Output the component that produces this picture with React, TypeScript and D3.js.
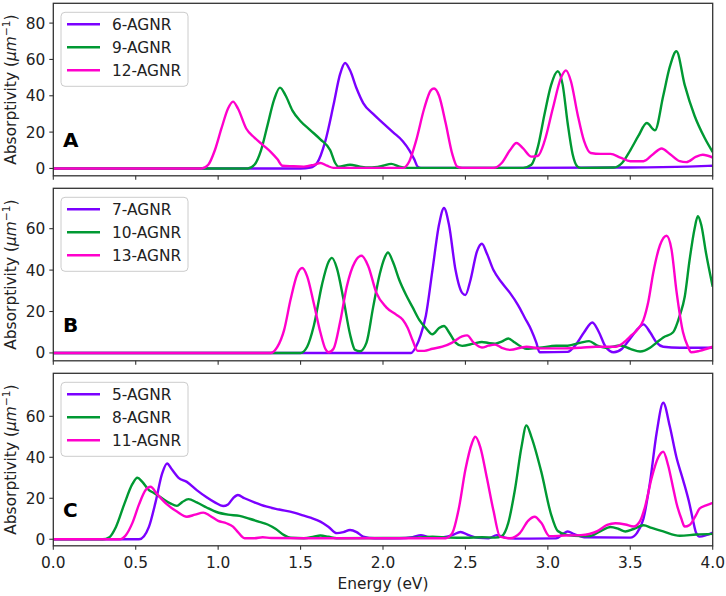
import * as d3 from 'd3';

type Pt = [number, number];

// Energy (eV) vs absorptivity (um^-1)
const agnr6: Pt[] = [
  [0, 0], [1.5, 0], [1.56, 0.5], [1.6, 3], [1.65, 15], [1.7, 35], [1.74, 52], [1.77, 58], [1.8, 54],
  [1.84, 44], [1.88, 36], [1.94, 30], [2.0, 25], [2.06, 20], [2.12, 15], [2.16, 10], [2.19, 5],
  [2.21, 1], [2.23, 0.3], [2.8, 0.3], [3.5, 0.5], [3.85, 1], [4.0, 1.5],
];
const agnr9: Pt[] = [
  [0, 0], [1.18, 0], [1.22, 2], [1.26, 10], [1.3, 24], [1.34, 38], [1.375, 44.5], [1.41, 40],
  [1.45, 32], [1.5, 26], [1.56, 21], [1.62, 16], [1.68, 10], [1.71, 3], [1.73, 1], [1.8, 2],
  [1.86, 1], [1.92, 0.5], [2.0, 1.5], [2.05, 2.5], [2.1, 1], [2.15, 0.3], [2.85, 0.3], [2.9, 2],
  [2.94, 12], [2.98, 30], [3.02, 46], [3.06, 53.5], [3.09, 46], [3.12, 25], [3.15, 8], [3.18, 1],
  [3.2, 0.3], [3.4, 0.5], [3.45, 3], [3.5, 10], [3.55, 18], [3.6, 25], [3.65, 21], [3.7, 40],
  [3.74, 56], [3.78, 64.5], [3.83, 46], [3.89, 29], [3.95, 17], [4.0, 9],
];
const agnr12: Pt[] = [
  [0, 0], [0.9, 0], [0.94, 2], [0.98, 10], [1.02, 22], [1.06, 33], [1.09, 36.8], [1.12, 33],
  [1.17, 22], [1.22, 17], [1.27, 13], [1.32, 9], [1.36, 5], [1.39, 1.5], [1.45, 1.2], [1.52, 1],
  [1.58, 2], [1.62, 3], [1.66, 1.5], [1.7, 0.3], [2.12, 0.3], [2.16, 4], [2.2, 15], [2.25, 33],
  [2.29, 43], [2.31, 44], [2.34, 40], [2.38, 25], [2.42, 8], [2.45, 1], [2.48, 0.3], [2.67, 0.3],
  [2.72, 3], [2.77, 10], [2.81, 14], [2.85, 11], [2.9, 6.5], [2.94, 7], [2.98, 15], [3.03, 33],
  [3.08, 50], [3.11, 54], [3.14, 48], [3.18, 30], [3.22, 15], [3.26, 8.5], [3.32, 8], [3.38, 8],
  [3.44, 6], [3.5, 4], [3.58, 4], [3.64, 8], [3.69, 11], [3.74, 8], [3.8, 4], [3.84, 3.5],
  [3.9, 6.5], [3.94, 7.5], [4.0, 6],
];

const agnr7: Pt[] = [
  [0, 0], [2.17, 0], [2.2, 3], [2.23, 9], [2.26, 18], [2.3, 40], [2.34, 62], [2.37, 70], [2.4, 62],
  [2.44, 40], [2.48, 29], [2.5, 28], [2.53, 35], [2.57, 49], [2.6, 52.7], [2.63, 48], [2.67, 40],
  [2.72, 34], [2.77, 29], [2.82, 23], [2.86, 17], [2.9, 11], [2.93, 5], [2.95, 0.3], [3.12, 0.5],
  [3.17, 4], [3.22, 10], [3.27, 14.7], [3.31, 10], [3.35, 3], [3.4, 0.3], [3.45, 2], [3.5, 7],
  [3.55, 12], [3.58, 13.8], [3.62, 10], [3.66, 5], [3.7, 3], [3.8, 2.5], [4.0, 2.5],
];
const agnr10: Pt[] = [
  [0, 0], [1.5, 0], [1.54, 3], [1.58, 13], [1.63, 33], [1.67, 44], [1.69, 45.9], [1.72, 41],
  [1.76, 26], [1.8, 9], [1.83, 1.5], [1.86, 0.8], [1.9, 5], [1.94, 22], [1.98, 38], [2.01, 46],
  [2.03, 48.5], [2.06, 44], [2.1, 35], [2.14, 28], [2.18, 22], [2.22, 16], [2.26, 12], [2.3, 9],
  [2.34, 12], [2.37, 13], [2.4, 10], [2.44, 5], [2.48, 3.4], [2.55, 4.5], [2.6, 5.3], [2.64, 4.8],
  [2.68, 4.5], [2.72, 5.5], [2.76, 7], [2.8, 5], [2.87, 2], [2.95, 2.5], [3.05, 3.5], [3.12, 3.5],
  [3.2, 5], [3.25, 5.7], [3.3, 3.5], [3.35, 2.5], [3.44, 3.6], [3.5, 2], [3.56, 0.7], [3.62, 2.5],
  [3.66, 5], [3.7, 7.5], [3.76, 10], [3.8, 18], [3.83, 27], [3.86, 45], [3.89, 60], [3.91, 66],
  [3.93, 62], [3.96, 48], [4.0, 32],
];
const agnr13: Pt[] = [
  [0, 0], [1.32, 0], [1.36, 3], [1.4, 11], [1.44, 26], [1.48, 38], [1.51, 41], [1.54, 37],
  [1.58, 24], [1.62, 10], [1.65, 2], [1.67, 0.3], [1.7, 2], [1.74, 15], [1.78, 32], [1.83, 44],
  [1.87, 46.9], [1.91, 42], [1.96, 29], [2.02, 22], [2.08, 18.5], [2.12, 16], [2.15, 12],
  [2.18, 6], [2.21, 1], [2.25, 1], [2.3, 2], [2.36, 3], [2.42, 5], [2.48, 8], [2.51, 8.5],
  [2.55, 5], [2.6, 2.6], [2.64, 3.5], [2.68, 4], [2.72, 2.5], [2.77, 1.5], [2.87, 3], [2.95, 2.2],
  [3.1, 2.2], [3.2, 2.5], [3.29, 3], [3.41, 3], [3.46, 5], [3.5, 8], [3.54, 11], [3.58, 16],
  [3.61, 25], [3.64, 39], [3.68, 52], [3.72, 56.6], [3.75, 50], [3.78, 30], [3.82, 10], [3.85, 3],
  [3.87, 0.3], [3.92, 1], [4.0, 3],
];

const agnr5: Pt[] = [
  [0, 0], [0.52, 0], [0.55, 1.5], [0.58, 6], [0.62, 18], [0.66, 32], [0.69, 37], [0.72, 34],
  [0.76, 30], [0.81, 28], [0.87, 24], [0.93, 20.5], [0.98, 18], [1.03, 16.2], [1.06, 17],
  [1.09, 20], [1.12, 21.6], [1.16, 20], [1.22, 18], [1.29, 16], [1.37, 14.5], [1.46, 13],
  [1.5, 12], [1.56, 10.5], [1.62, 8.6], [1.67, 6], [1.72, 3], [1.76, 3.5], [1.8, 4.5], [1.84, 3.5],
  [1.88, 1.3], [1.95, 0.5], [2.1, 0.5], [2.18, 1], [2.23, 2], [2.28, 1], [2.35, 0.8], [2.42, 2],
  [2.47, 3.5], [2.52, 2], [2.58, 0.7], [2.64, 0.5], [2.69, 2], [2.74, 0.8], [2.8, 0.3], [3.05, 0.4],
  [3.09, 2.5], [3.12, 3.8], [3.16, 2.5], [3.22, 1], [3.5, 0.8], [3.54, 3], [3.58, 10], [3.62, 28],
  [3.66, 52], [3.7, 66.6], [3.74, 55], [3.78, 40], [3.82, 29], [3.86, 17], [3.88, 9.4], [3.9, 3],
  [3.92, 1.3], [3.96, 2], [4.0, 3.3],
];
const agnr8: Pt[] = [
  [0, 0], [0.3, 0], [0.34, 1], [0.38, 6], [0.43, 17], [0.48, 27], [0.51, 30], [0.54, 28],
  [0.58, 24], [0.61, 22.6], [0.66, 20], [0.71, 17.5], [0.75, 16.3], [0.78, 18], [0.82, 19.6],
  [0.87, 18], [0.93, 15.5], [0.99, 13.3], [1.06, 12], [1.13, 11.4], [1.19, 10], [1.25, 8.5],
  [1.3, 7.2], [1.35, 5], [1.4, 2], [1.44, 0.7], [1.52, 0.5], [1.58, 1.2], [1.62, 1.8], [1.67, 1.2],
  [1.72, 0.5], [2.0, 0.6], [2.2, 0.8], [2.3, 1.2], [2.4, 0.8], [2.5, 0.7], [2.6, 1], [2.68, 0.8],
  [2.72, 1.5], [2.76, 8], [2.8, 24], [2.84, 45], [2.87, 55.6], [2.9, 50], [2.96, 33], [3.02, 12],
  [3.06, 4], [3.12, 2], [3.2, 1.5], [3.25, 1.5], [3.32, 4], [3.38, 6], [3.43, 5], [3.47, 3.8],
  [3.52, 5], [3.58, 6.8], [3.63, 5.5], [3.7, 3.8], [3.8, 1.7], [3.9, 2.3], [4.0, 2.6],
];
const agnr11: Pt[] = [
  [0, 0], [0.4, 0], [0.44, 2], [0.48, 8], [0.52, 17], [0.56, 24], [0.59, 25.6], [0.63, 22],
  [0.69, 17], [0.75, 13.5], [0.81, 11], [0.86, 12], [0.91, 13], [0.95, 11.5], [1.0, 9], [1.05, 7.8],
  [1.09, 6.2], [1.12, 3.5], [1.16, 0.5], [1.22, 0.5], [1.27, 1], [1.32, 0.6], [1.5, 0.5], [2.0, 0.5],
  [2.38, 0.5], [2.42, 3], [2.46, 15], [2.5, 34], [2.54, 47], [2.56, 50], [2.59, 45], [2.63, 30],
  [2.67, 14], [2.71, 1.3], [2.77, 0.5], [2.83, 3], [2.88, 9], [2.92, 11], [2.96, 8], [3.01, 1.5],
  [3.1, 1.8], [3.2, 2], [3.3, 4], [3.36, 7], [3.41, 7.8], [3.47, 7.2], [3.52, 6.2], [3.56, 9],
  [3.59, 16], [3.63, 30], [3.67, 40], [3.7, 42.7], [3.73, 36], [3.76, 25], [3.78, 17.7], [3.81, 10],
  [3.83, 6.2], [3.86, 7], [3.9, 12], [3.92, 15], [3.96, 16.5], [4.0, 17.8],
];

const panelLetters = ['A', 'B', 'C'];
const seriesNames = [
  ['6-AGNR', '9-AGNR', '12-AGNR'],
  ['7-AGNR', '10-AGNR', '13-AGNR'],
  ['5-AGNR', '8-AGNR', '11-AGNR'],
];
const seriesData = [
  [agnr6, agnr9, agnr12],
  [agnr7, agnr10, agnr13],
  [agnr5, agnr8, agnr11],
];
const yTicks = [
  [0, 20, 40, 60, 80],
  [0, 20, 40, 60],
  [0, 20, 40, 60],
];
const yDomains: [number, number][] = [
  [-4.05, 90.9],
  [-3.8, 79.5],
  [-3.2, 81],
];
const xTicks = [0, 0.5, 1, 1.5, 2, 2.5, 3, 3.5, 4];

const colors = ['#7b00ff', '#009933', '#ff00cc'];

const W = 726;
const H = 596;
const left = 53.3;
const right = 712.7;
const panelTops = [3.3, 188.3, 373.3];
const panelH = 172.5;
const font = '"DejaVu Sans", sans-serif';
const fs = 15.4;

export default function App() {
  const x = d3.scaleLinear().domain([0, 4]).range([left, right]);

  return (
    <svg
      width={W}
      height={H}
      style={{ position: 'absolute', left: 0, top: 0, background: '#fff' }}
      fontFamily={font}
    >
      <defs>
        {panelTops.map((t, i) => (
          <clipPath id={`clip${i}`} key={i}>
            <rect x={left} y={t} width={right - left} height={panelH} />
          </clipPath>
        ))}
      </defs>
      {panelTops.map((top, pi) => {
        const bottom = top + panelH;
        const y = d3.scaleLinear().domain(yDomains[pi]).range([bottom, top]);
        const line = d3
          .line<Pt>()
          .x((d) => x(d[0]))
          .y((d) => y(d[1]))
          .curve(d3.curveMonotoneX);
        const isLast = pi === panelTops.length - 1;
        return (
          <g key={pi}>
            <g clipPath={`url(#clip${pi})`}>
              {seriesData[pi].map((s, si) => (
                <path
                  key={si}
                  d={line(s) || ''}
                  fill="none"
                  stroke={colors[si]}
                  strokeWidth={2.4}
                  strokeLinejoin="round"
                />
              ))}
            </g>
            <rect
              x={left}
              y={top}
              width={right - left}
              height={panelH}
              fill="none"
              stroke="#333"
              strokeWidth={1.3}
            />
            {yTicks[pi].map((t) => (
              <g key={t}>
                <line x1={left - 4} x2={left} y1={y(t)} y2={y(t)} stroke="#333" strokeWidth={1.1} />
                <text
                  x={left - 8}
                  y={y(t)}
                  dy="0.36em"
                  textAnchor="end"
                  fontSize={fs}
                  fill="#222"
                >
                  {t}
                </text>
              </g>
            ))}
            {xTicks.map((t) => (
              <g key={t}>
                <line x1={x(t)} x2={x(t)} y1={bottom} y2={bottom + 4} stroke="#333" strokeWidth={1.1} />
                {isLast && (
                  <text x={x(t)} y={bottom + 22} textAnchor="middle" fontSize={fs} fill="#222">
                    {d3.format('.1f')(t)}
                  </text>
                )}
              </g>
            ))}
            <text
              transform={`translate(15.5,${top + panelH / 2}) rotate(-90)`}
              textAnchor="middle"
              fontSize={fs}
              fill="#222"
            >
              Absorptivity (
              <tspan fontStyle="italic">μm</tspan>
              <tspan fontSize={fs * 0.7} dy={-6}>
                −1
              </tspan>
              <tspan dy={6}>)</tspan>
            </text>
            <text x={63} y={top + 144} fontSize={20} fontWeight="bold" fill="#000">
              {panelLetters[pi]}
            </text>
            <g transform={`translate(61,${top + 9})`}>
              <rect
                x={0}
                y={0}
                width={127}
                height={74}
                rx={4}
                fill="#fff"
                fillOpacity={0.8}
                stroke="#cccccc"
                strokeWidth={1}
              />
              {seriesNames[pi].map((n, si) => (
                <g key={n} transform={`translate(0,${12 + si * 23})`}>
                  <line x1={6} x2={39} y1={0} y2={0} stroke={colors[si]} strokeWidth={2.4} />
                  <text x={51} y={0} dy="0.36em" fontSize={fs} fill="#222">
                    {n}
                  </text>
                </g>
              ))}
            </g>
          </g>
        );
      })}
      <text x={(left + right) / 2} y={589} textAnchor="middle" fontSize={fs} fill="#222">
        Energy (eV)
      </text>
    </svg>
  );
}
